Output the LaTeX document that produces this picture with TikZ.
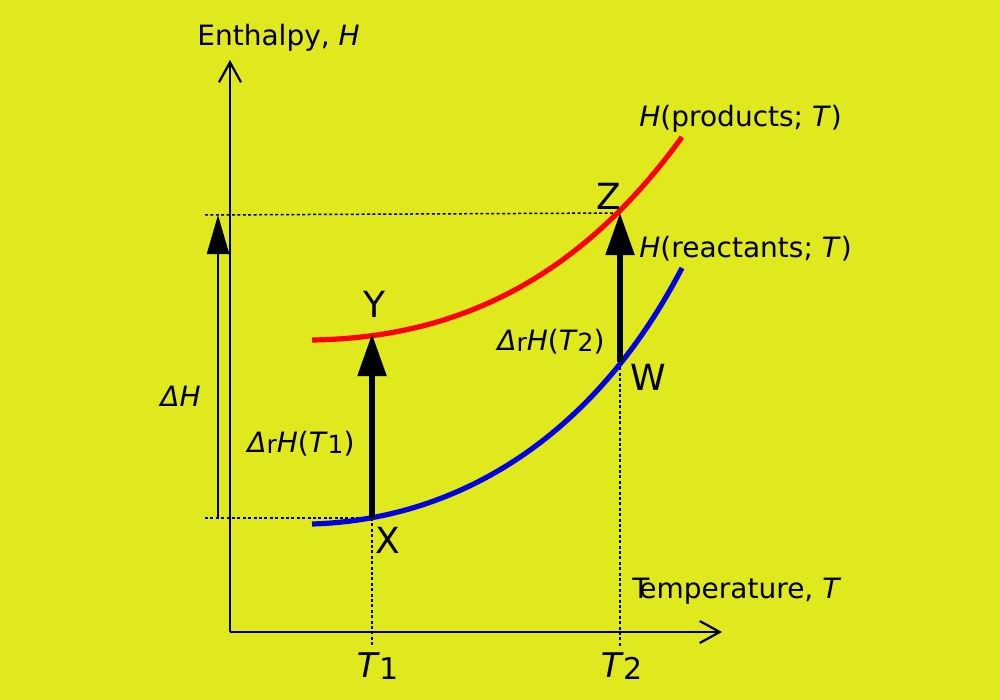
\documentclass[tikz,border=0pt]{standalone}
\usepackage{fontspec}
\setmainfont{DejaVu Sans}
\usetikzlibrary{arrows.meta}
\definecolor{bg}{RGB}{224,232,30}
\definecolor{cred}{RGB}{255,0,0}
\definecolor{cblue}{RGB}{0,0,225}
\newcommand\lowsub[1]{\raisebox{-0.06em}{\fontsize{12.5}{13}\selectfont #1}}
\begin{document}
\begin{tikzpicture}[x=0.5pt,y=-0.5pt,
  axis/.style={line width=1.1pt,-{Straight Barb[length=10pt,width=11pt,line width=1.1pt]}},
  guide/.style={line width=0.75pt,dash pattern=on 1.5pt off 1.2pt},
  curve/.style={line width=2.6pt},
  bigarrow/.style={line width=2.6pt,-{Triangle[length=21pt,width=14pt]}},
  dharrow/.style={line width=1.1pt,-{Triangle[length=19.5pt,width=11pt]}},
  lbl/.style={inner sep=0pt,anchor=base west,font=\fontsize{14}{16}\selectfont},
  pt/.style={inner sep=0pt,anchor=base,font=\fontsize{18}{20}\selectfont}]
\fill[bg] (0,0) rectangle (1000,700);
\useasboundingbox (0,0) rectangle (1000,700);
% key points
\coordinate (O) at (230,632);
\coordinate (Ytop) at (230,60);
\coordinate (Xend) at (722,632);
\coordinate (X) at (372,518);
\coordinate (Y) at (372,334);
\coordinate (W) at (620,362);
\coordinate (Z) at (620,213);
\coordinate (Lz) at (205,215);
\coordinate (Lx) at (205,518);
\coordinate (T1b) at (372,646);
\coordinate (T2b) at (620,646);
\coordinate (DHa) at (218,518);
\coordinate (DHb) at (218,215);
% guides
\draw[guide] (Lz) -- (Z);
\draw[guide] (Lx) -- (X);
\draw[guide] (X) -- (T1b);
\draw[guide] (W) -- (T2b);
% axes
\draw[axis] (O) -- (Ytop);
\draw[axis] (O) -- (Xend);
% curves
\draw[curve,cred] (312,340) .. controls (450,338) and (575,285) .. (682,137);
\draw[curve,cblue] (312,524) .. controls (450,520) and (590,445) .. (682,268);
% arrows
\draw[dharrow] (DHa) -- (DHb);
\draw[bigarrow] (X) -- (Y);
\draw[bigarrow] (W) -- (Z);
% labels
\node[lbl] (enth) at (197,46) {Enthalpy, \textit{H}};
\node[lbl] (prod) at (639,127) {\textit{H}(products; \textit{T})};
\node[lbl] (reac) at (639,257) {\textit{H}(reactants; \textit{T})};
\node[lbl] (temp) at (632,598) {T\kern-0.36em emperature, \textit{T}};
\node[lbl] (dh) at (160,406) {\textit{ΔH}};
\node[lbl] (dr1) at (247,452) {\textit{Δ}\lowsub{r}\textit{H}(\textit{T}\lowsub{1})};
\node[lbl] (dr2) at (497,350) {\textit{Δ}\lowsub{r}\textit{H}(\textit{T}\lowsub{2})};
\node[pt] (ly) at (374,317) {Y};
\node[pt] (lx) at (388,553) {X};
\node[pt] (lz) at (609,210) {Z};
\node[pt] (lw) at (648,390) {W};
\node[pt,font=\fontsize{17}{19}\selectfont] (t1) at (378,677) {\textit{T}\lowsub{\fontsize{15}{16}\selectfont 1}};
\node[pt,font=\fontsize{17}{19}\selectfont] (t2) at (622,677) {\textit{T}\lowsub{\fontsize{15}{16}\selectfont 2}};
\end{tikzpicture}
\end{document}
